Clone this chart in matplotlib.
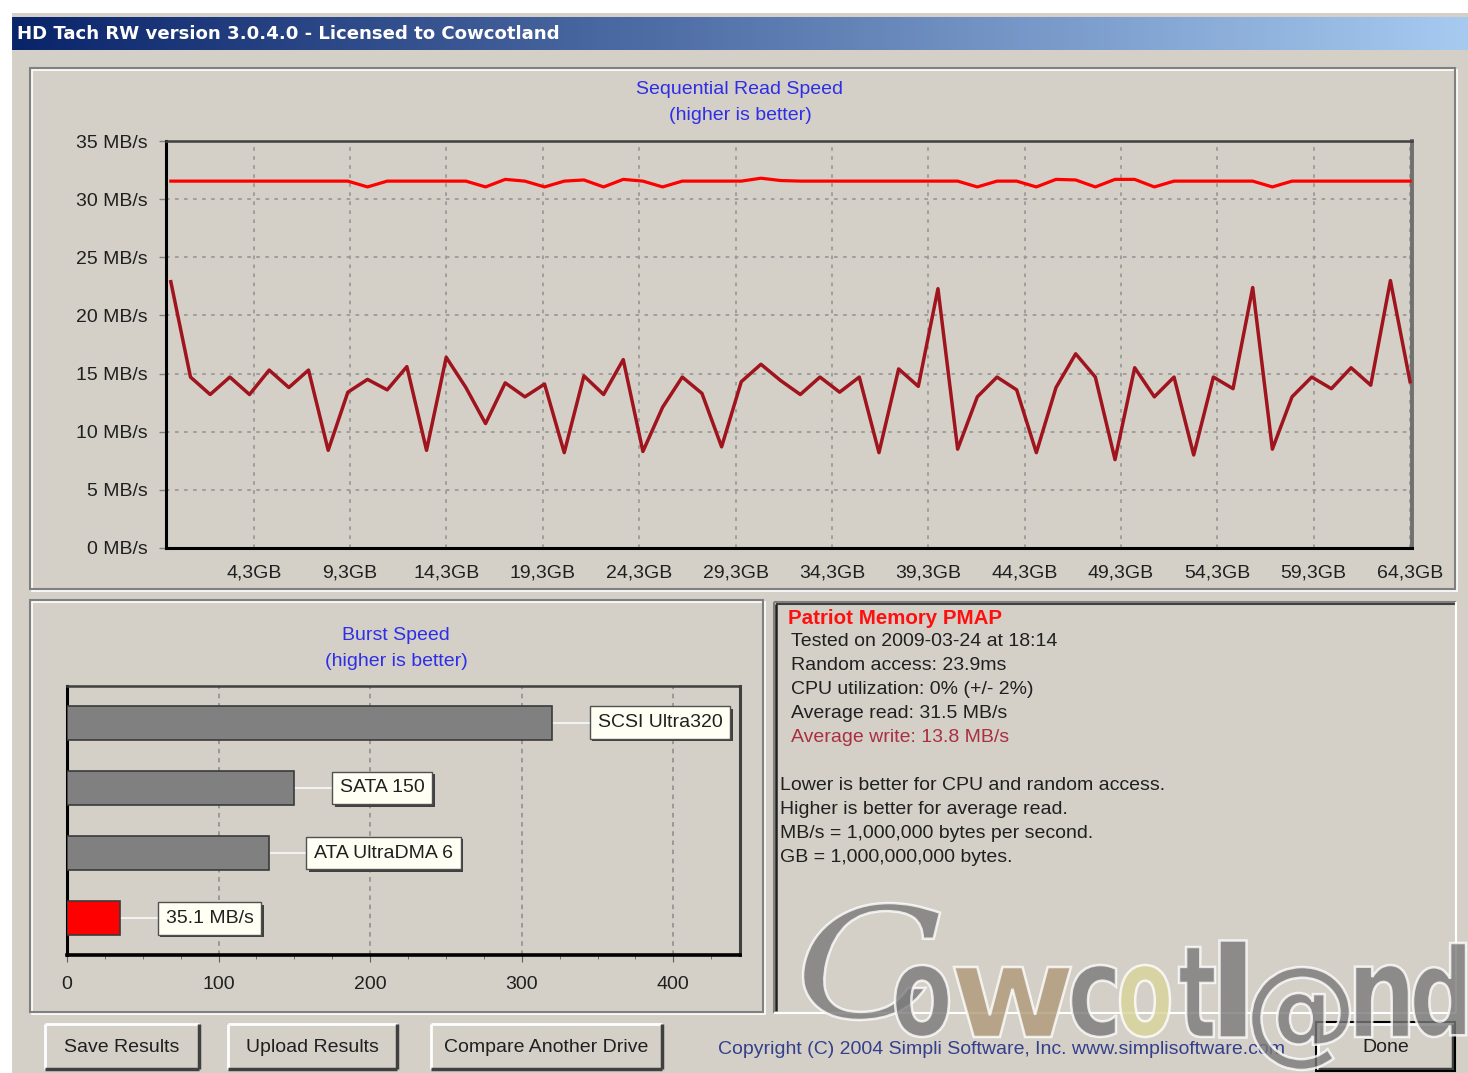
"""HD Tach RW result window: sequential read/write curves, burst bars, info panel."""

import numpy as np
import matplotlib.pyplot as plt
from matplotlib.patches import Rectangle, PathPatch
from matplotlib.textpath import TextPath
from matplotlib.font_manager import FontProperties
from matplotlib.transforms import Affine2D, offset_copy

W, H = 1468, 1073
GREY = "#D4D0C8"
TITLE_BLUE = "#2E2EE6"
UI_FONT = ["Liberation Sans", "DejaVu Sans"]
FS = 14

# sequential speeds sampled across the drive (MB/s)
read_mbs = [31.55, 31.55, 31.55, 31.55, 31.55, 31.55, 31.55, 31.55, 31.55, 31.55,
            31.05, 31.55, 31.55, 31.55, 31.55, 31.55, 31.05, 31.70, 31.55, 31.05,
            31.55, 31.65, 31.05, 31.70, 31.55, 31.05, 31.55, 31.55, 31.55, 31.55,
            31.80, 31.60, 31.55, 31.55, 31.55, 31.55, 31.55, 31.55, 31.55, 31.55,
            31.55, 31.05, 31.55, 31.55, 31.05, 31.70, 31.65, 31.05, 31.70, 31.70,
            31.05, 31.55, 31.55, 31.55, 31.55, 31.55, 31.05, 31.55, 31.55, 31.55,
            31.55, 31.55, 31.55, 31.55]
write_mbs = [22.9, 14.7, 13.2, 14.7, 13.2, 15.3, 13.8, 15.3, 8.4, 13.4,
             14.5, 13.6, 15.6, 8.4, 16.4, 13.8, 10.7, 14.2, 13.0, 14.1,
             8.2, 14.8, 13.2, 16.2, 8.3, 12.1, 14.7, 13.3, 8.7, 14.3,
             15.8, 14.4, 13.2, 14.7, 13.4, 14.7, 8.2, 15.4, 13.9, 22.3,
             8.5, 13.0, 14.7, 13.6, 8.2, 13.8, 16.7, 14.7, 7.6, 15.5,
             13.0, 14.7, 8.0, 14.7, 13.7, 22.4, 8.5, 13.0, 14.7, 13.7,
             15.5, 14.0, 23.0, 14.3]
gb_ticks = [4.3, 9.3, 14.3, 19.3, 24.3, 29.3, 34.3, 39.3, 44.3, 49.3, 54.3, 59.3, 64.3]
gb_labels = ["4,3GB", "9,3GB", "14,3GB", "19,3GB", "24,3GB", "29,3GB", "34,3GB",
             "39,3GB", "44,3GB", "49,3GB", "54,3GB", "59,3GB", "64,3GB"]
speed_ticks = [0, 5, 10, 15, 20, 25, 30, 35]

# burst speed comparison (MB/s)
burst_labels = ["SCSI Ultra320", "SATA 150", "ATA UltraDMA 6", "35.1 MB/s"]
burst_values = [320, 150, 133, 35.1]
burst_colors = ["#808080", "#808080", "#808080", "#FF0000"]
burst_ticks = [0, 100, 200, 300, 400]

info_head = "Patriot Memory PMAP"
info_lines = ["Tested on 2009-03-24 at 18:14", "Random access: 23.9ms",
              "CPU utilization: 0% (+/- 2%)", "Average read: 31.5 MB/s"]
info_write = "Average write: 13.8 MB/s"
notes = ["Lower is better for CPU and random access.",
         "Higher is better for average read.",
         "MB/s = 1,000,000 bytes per second.",
         "GB = 1,000,000,000 bytes."]


def frac(x0, y0, x1, y1):
    return [x0 / W, 1 - y1 / H, (x1 - x0) / W, (y1 - y0) / H]


def line(ax, xs, ys, color, lw=1.5, z=3):
    ax.plot(xs, ys, color=color, lw=lw, zorder=z, solid_capstyle="butt")


def etched(ax, x0, y0, x1, y1):
    ax.add_patch(Rectangle((x0, y0), x1 - x0, y1 - y0, fill=False, ec="#808080", lw=1.5, zorder=3))
    ax.add_patch(Rectangle((x0 + 1.5, y0 + 1.5), x1 - x0, y1 - y0, fill=False, ec="white", lw=1.2, zorder=2))


def button(ax, x0, y0, x1, y1, label, default=False):
    ax.add_patch(Rectangle((x0, y0), x1 - x0, y1 - y0, fc=GREY, ec="none", zorder=2))
    line(ax, [x0, x1], [y0, y0], "white", 2)
    line(ax, [x0, x0], [y0, y1], "white", 2)
    line(ax, [x0, x1], [y1, y1], "#404040", 2.5)
    line(ax, [x1, x1], [y0, y1], "#404040", 2.5)
    if default:
        ax.add_patch(Rectangle((x0 - 2, y0 - 2), x1 - x0 + 4, y1 - y0 + 4, fill=False, ec="black", lw=1.5, zorder=4))
    ax.text((x0 + x1) / 2, (y0 + y1) / 2 + 1, label, ha="center", va="center",
            fontsize=FS, family=UI_FONT, color="#202020", zorder=5)


def glyph(ax, ch, x0, x1, top, bottom, color, **font):
    tp = TextPath((0, 0), ch, size=100, prop=FontProperties(**font))
    e = tp.get_extents()
    tr = (Affine2D().translate(-e.x0, -e.y0)
          .scale((x1 - x0) / e.width, -(bottom - top) / e.height)
          .translate(x0, bottom))
    ax.add_patch(PathPatch(tr.transform_path(tp), fc=color, ec="white", lw=1.8,
                           alpha=0.8, zorder=20))


fig = plt.figure(figsize=(W / 100, H / 100), dpi=100, facecolor="white")

# window chrome drawn in pixel coordinates
bg = fig.add_axes([0, 0, 1, 1], zorder=0)
bg.set_xlim(0, W); bg.set_ylim(H, 0); bg.axis("off")
bg.add_patch(Rectangle((10, 13), W - 10, H - 13, fc=GREY, ec="none", zorder=0))
line(bg, [11, 11], [13, H], "white", 1.5)

grad = np.linspace(0, 1, 256)[None, :, None]
c0, c1 = np.array([10, 36, 106]) / 255, np.array([166, 202, 240]) / 255
bg.imshow(c0 + (c1 - c0) * grad, extent=(12, W, 50, 17), aspect="auto", zorder=1)
bg.set_xlim(0, W); bg.set_ylim(H, 0)
bg.text(17, 34, "HD Tach RW version 3.0.4.0 - Licensed to Cowcotland", color="white",
        fontsize=13.1, weight="bold", family="DejaVu Sans", ha="left", va="center", zorder=5)

etched(bg, 30, 68, 1455, 589)
etched(bg, 30, 600, 763, 1012)
# sunken info field
line(bg, [774, 1456], [602, 602], "#808080", 1.5)
line(bg, [774, 774], [602, 1013], "#808080", 1.5)
line(bg, [776, 1455], [604, 604], "#404040", 1.5)
line(bg, [776, 776], [604, 1011], "#202020", 1.8)
line(bg, [774, 1456], [1013, 1013], "white", 1.5)
line(bg, [1456, 1456], [602, 1013], "white", 1.5)

for x, y, s in [(740, 89, "Sequential Read Speed"), (740, 116, "(higher is better)"),
                (396, 635, "Burst Speed"), (396, 661, "(higher is better)")]:
    bg.text(x, y, s, color=TITLE_BLUE, fontsize=FS, family=UI_FONT, ha="center", va="center")

bg.text(788, 618, info_head, color="#FF1010", fontsize=14.8, weight="bold", family=UI_FONT, va="center")
for i, s in enumerate(info_lines):
    bg.text(791, 642 + 24 * i, s, color="#202020", fontsize=FS, family=UI_FONT, va="center")
bg.text(791, 738, info_write, color="#A83040", fontsize=FS, family=UI_FONT, va="center")
for i, s in enumerate(notes):
    bg.text(780, 786 + 24 * i, s, color="#202020", fontsize=FS, family=UI_FONT, va="center")

button(bg, 45, 1024, 199, 1069, "Save Results")
button(bg, 228, 1024, 397, 1069, "Upload Results")
button(bg, 431, 1024, 662, 1069, "Compare Another Drive")
button(bg, 1318, 1024, 1453, 1069, "Done", default=True)
bg.text(718, 1050, "Copyright (C) 2004 Simpli Software, Inc. www.simplisoftware.com",
        color="#34408C", fontsize=FS, family=UI_FONT, va="center")

# site watermark
glyph(bg, "C", 803, 940, 903, 1020, "#7A7A7A", family="DejaVu Serif", style="italic")
for ch, x0, x1, top, color in [("o", 895, 949, 965, "#7A7A7A"), ("w", 954, 1071, 967, "#B09A78"),
                               ("c", 1071, 1116, 965, "#7A7A7A"), ("o", 1120, 1170, 965, "#D8D49A"),
                               ("t", 1179, 1215, 947, "#7A7A7A"), ("l", 1219, 1246, 940, "#7A7A7A"),
                               ("n", 1355, 1409, 965, "#7A7A7A"), ("d", 1413, 1466, 943, "#7A7A7A")]:
    glyph(bg, ch, x0, x1, top, 1037, color, family="DejaVu Sans", weight="bold")
glyph(bg, "@", 1251, 1350, 967, 1070, "#7A7A7A", family="DejaVu Sans", weight="bold")

# sequential read / write chart
gb = np.linspace(0.0, 64.3, len(write_mbs))
ax = fig.add_axes(frac(166, 141, 1412, 548), facecolor=GREY, zorder=2)
ax.plot(gb, read_mbs, color="#FF0000", lw=2.3, zorder=3)
ax.plot(gb, write_mbs, color="#A0141E", lw=2.5, zorder=3)
ax.set_xlim(-0.25, 64.4); ax.set_ylim(0, 35)
ax.set_xticks(gb_ticks, gb_labels)
ax.set_yticks(speed_ticks, [f"{v} MB/s" for v in speed_ticks])
ax.grid(color="#9A9A9A", ls=(0, (2, 3)), lw=1.3)
ax.tick_params(axis="x", length=0, pad=12, labelsize=FS, labelcolor="#202020")
ax.tick_params(axis="y", length=5, width=1, color="#808080", pad=8, labelsize=FS, labelcolor="#202020")
for lab in ax.get_xticklabels() + ax.get_yticklabels():
    lab.set_family(UI_FONT)
for side, c, lw in [("left", "black", 2.2), ("bottom", "black", 2.2), ("top", "#404040", 1.8), ("right", "#707070", 2.8)]:
    ax.spines[side].set_color(c); ax.spines[side].set_linewidth(lw)

# burst speed bars
ypos = np.arange(len(burst_values))
bx = fig.add_axes(frac(67, 686, 740, 955), facecolor=GREY, zorder=2)
bx.barh(ypos, burst_values, height=0.52, color=burst_colors, edgecolor="#3A3A3A", lw=1.2, zorder=3)
bx.set_xlim(0, 444); bx.set_ylim(3.56, -0.56)
bx.set_xticks(burst_ticks); bx.set_xticks(np.arange(0, 444, 25), minor=True)
bx.set_yticks([])
bx.grid(axis="x", color="#8A8A8A", ls=(0, (3, 3)), lw=1.1, zorder=1)
bx.set_axisbelow(True)
bx.tick_params(axis="x", which="major", length=5, color="#606060", pad=10, labelsize=FS, labelcolor="#202020")
bx.tick_params(axis="x", which="minor", length=3, color="#606060")
for lab in bx.get_xticklabels():
    lab.set_family(UI_FONT)
for side, c, lw in [("left", "black", 2.2), ("bottom", "black", 2.6), ("top", "#404040", 1.8), ("right", "#404040", 2.2)]:
    bx.spines[side].set_color(c); bx.spines[side].set_linewidth(lw)

shadow_tr = offset_copy(bx.transData, fig, x=2.5, y=-2.5, units="dots")
for y, v, lab in zip(ypos, burst_values, burst_labels):
    bx.plot([v, v + 25], [y, y], color="#F2F2F2", lw=1.5, zorder=2)
    bx.text(v + 30, y, lab, transform=shadow_tr, color="none", fontsize=FS, family=UI_FONT,
            va="center", bbox=dict(boxstyle="square,pad=0.4", fc="#404040", ec="none"), zorder=4)
    bx.text(v + 30, y, lab, color="#202020", fontsize=FS, family=UI_FONT, va="center",
            bbox=dict(boxstyle="square,pad=0.4", fc="#FFFFF4", ec="#505050", lw=1), zorder=5)

fig.savefig("out.png", dpi=100, facecolor="white")
